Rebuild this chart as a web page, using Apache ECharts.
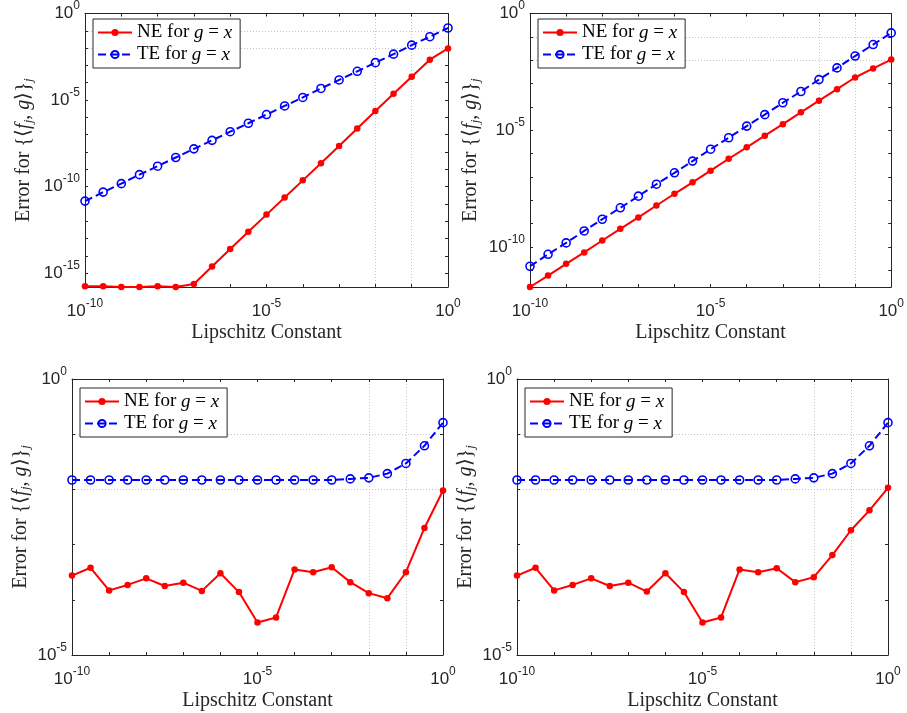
<!DOCTYPE html>
<html><head><meta charset="utf-8">
<script src="https://cdn.jsdelivr.net/npm/echarts@6/dist/echarts.min.js"></script>
<style>html,body{margin:0;padding:0;background:#fff}#c{width:907px;height:713px}</style>
</head><body><div id="c"></div>
<script>
// ---------------- data ----------------
const lipschitz = [1e-10, 3.1623e-10, 1e-9, 3.1623e-9, 1e-8, 3.1623e-8, 1e-7, 3.1623e-7, 1e-6, 3.1623e-6,
  1e-5, 3.1623e-5, 1e-4, 3.1623e-4, 1e-3, 3.1623e-3, 1e-2, 3.1623e-2, 1e-1, 3.1623e-1, 1];

const ne1 = [1.74e-16, 1.74e-16, 1.58e-16, 1.58e-16, 1.74e-16, 1.58e-16, 2.34e-16, 2.40e-15, 2.45e-14, 2.45e-13,
  2.40e-12, 2.34e-11, 2.29e-10, 2.24e-9, 2.24e-8, 2.29e-7, 2.34e-6, 2.29e-5, 2.19e-4, 2.14e-3, 9.55e-3];
const te1 = [1.45e-11, 4.79e-11, 1.48e-10, 4.90e-10, 1.51e-9, 4.79e-9, 1.51e-8, 4.68e-8, 1.48e-7, 4.57e-7,
  1.45e-6, 4.57e-6, 1.41e-5, 4.68e-5, 1.45e-4, 4.57e-4, 1.45e-3, 4.47e-3, 1.48e-2, 4.57e-2, 1.45e-1];

const ne2 = [1.95e-12, 6.03e-12, 1.91e-11, 5.89e-11, 1.91e-10, 6.03e-10, 1.86e-9, 6.03e-9, 1.91e-8, 5.89e-8,
  1.86e-7, 6.03e-7, 1.86e-6, 5.89e-6, 1.82e-5, 5.89e-5, 1.86e-4, 5.75e-4, 1.82e-3, 4.47e-3, 1.07e-2];
const te2 = [1.51e-11, 4.90e-11, 1.51e-10, 4.90e-10, 1.55e-9, 4.79e-9, 1.51e-8, 4.90e-8, 1.51e-7, 4.79e-7,
  1.55e-6, 4.79e-6, 1.51e-5, 4.68e-5, 1.51e-4, 4.57e-4, 1.48e-3, 4.68e-3, 1.51e-2, 4.68e-2, 1.48e-1];

const ne3 = [2.75e-4, 3.80e-4, 1.48e-4, 1.86e-4, 2.45e-4, 1.78e-4, 2.04e-4, 1.45e-4, 3.02e-4, 1.38e-4,
  3.89e-5, 4.79e-5, 3.55e-4, 3.16e-4, 3.89e-4, 2.09e-4, 1.32e-4, 1.07e-4, 3.16e-4, 2.00e-3, 9.55e-3];
const te3 = [1.48e-2, 1.48e-2, 1.48e-2, 1.48e-2, 1.48e-2, 1.48e-2, 1.48e-2, 1.48e-2, 1.48e-2, 1.48e-2,
  1.48e-2, 1.48e-2, 1.48e-2, 1.48e-2, 1.48e-2, 1.55e-2, 1.62e-2, 1.93e-2, 2.95e-2, 6.17e-2, 1.62e-1];

const ne4 = [2.75e-4, 3.80e-4, 1.48e-4, 1.86e-4, 2.45e-4, 1.78e-4, 2.04e-4, 1.41e-4, 3.02e-4, 1.38e-4,
  3.89e-5, 4.79e-5, 3.55e-4, 3.16e-4, 3.72e-4, 2.09e-4, 2.57e-4, 6.46e-4, 1.82e-3, 4.17e-3, 1.07e-2];
const te4 = [1.48e-2, 1.48e-2, 1.48e-2, 1.48e-2, 1.48e-2, 1.48e-2, 1.48e-2, 1.48e-2, 1.48e-2, 1.48e-2,
  1.48e-2, 1.48e-2, 1.48e-2, 1.48e-2, 1.48e-2, 1.55e-2, 1.62e-2, 1.93e-2, 2.95e-2, 6.17e-2, 1.62e-1];

const xLimits = [1e-10, 1];
const xTickLabels = [1e-10, 1e-5, 1];
const yLimits1 = [1.58e-16, 1];
const yLimits2 = [1.95e-12, 1];
const yLimits3 = [1e-5, 1];
const yTickLabels1 = [1e-15, 1e-10, 1e-5, 1];
const yTickLabels2 = [1e-10, 1e-5, 1];
const yTickLabels3 = [1e-5, 1];

const neName = 'NE for g = x';
const teName = 'TE for g = x';
const xName = 'Lipschitz Constant';
const yName = 'Error for {⟨{i|f}{sub|j}, {i|g}⟩}{sub|j}';

// ---------------- styling ----------------
const TXT = '#262626';
const SERIF = "'Liberation Serif', 'Times New Roman', serif";
const SANS = "'Liberation Sans', Arial, sans-serif";
const MAJOR = { color: '#dcdcdc', width: 1, type: 'solid' };
const MINOR = { color: '#c4c4c4', width: 1, type: [1, 2] };

const panels = [
  { rect: { left: 85, top: 11, width: 363, height: 276 }, ne: ne1, te: te1, ylim: yLimits1, yt: yTickLabels1, yGap: 50, legend: { left: 93, top: 19 } },
  { rect: { left: 530, top: 11, width: 363, height: 276 }, ne: ne2, te: te2, ylim: yLimits2, yt: yTickLabels2, yGap: 48, legend: { left: 538, top: 19 } },
  { rect: { left: 72, top: 379, width: 371, height: 276 }, ne: ne3, te: te3, ylim: yLimits3, yt: yTickLabels3, yGap: 40, legend: { left: 80, top: 388 } },
  { rect: { left: 517, top: 379, width: 371, height: 276 }, ne: ne4, te: te4, ylim: yLimits3, yt: yTickLabels3, yGap: 40, legend: { left: 525, top: 388 } }
];

function decades(lim) {
  const out = [];
  for (let e = Math.ceil(Math.log10(lim[0]) - 1e-9); e <= Math.floor(Math.log10(lim[1]) + 1e-9); e++) out.push(Math.pow(10, e));
  return out;
}
function isMajor(v, list) { return list.some(m => Math.abs(Math.log10(m) - Math.log10(v)) < 1e-6); }

const powRich = {
  b: { fontFamily: SANS, fontSize: 17, color: TXT },
  s: { fontFamily: SANS, fontSize: 12, color: TXT, padding: [0, 0, 15, 0] }
};
function powFmt(v) {
  const e = Math.round(Math.log10(v));
  return '{b|10}{s|' + e + '}';
}

const grids = [], xAxes = [], yAxes = [], series = [], legends = [];
panels.forEach((p, i) => {
  grids.push(Object.assign({}, p.rect));
  const xDec = decades(xLimits), yDec = decades(p.ylim);
  const baseX = {
    type: 'log', gridIndex: i, min: xLimits[0], max: xLimits[1], z: 1,
    axisLine: { show: true, lineStyle: { color: TXT, width: 1 } },
    axisTick: { show: true, inside: true, length: 3, customValues: xDec, lineStyle: { color: TXT } },
    splitLine: { show: false }, minorTick: { show: false }
  };
  xAxes.push(Object.assign({}, baseX, {
    position: 'bottom',
    axisLabel: { show: true, customValues: xTickLabels, formatter: powFmt, rich: powRich, margin: 11 },
    name: xName, nameLocation: 'middle', nameGap: 36,
    nameTextStyle: { fontFamily: SERIF, fontSize: 20, color: TXT, verticalAlign: 'top' }
  }));
  xAxes.push(Object.assign({}, baseX, { position: 'top', axisLabel: { show: false } }));
  const baseY = {
    type: 'log', gridIndex: i, min: p.ylim[0], max: p.ylim[1], z: 1,
    axisLine: { show: true, lineStyle: { color: TXT, width: 1 } },
    axisTick: { show: true, inside: true, length: 3, customValues: yDec, lineStyle: { color: TXT } },
    splitLine: { show: false }, minorTick: { show: false }
  };
  yAxes.push(Object.assign({}, baseY, {
    position: 'left',
    axisLabel: { show: true, customValues: p.yt, formatter: powFmt, rich: powRich, margin: 5 },
    name: yName, nameLocation: 'middle', nameGap: p.yGap, nameRotate: 90,
    nameTextStyle: {
      fontFamily: SERIF, fontSize: 20, color: TXT,
      rich: {
        i: { fontFamily: SERIF, fontSize: 20, fontStyle: 'italic', color: TXT },
        sub: { fontFamily: SERIF, fontSize: 13, fontStyle: 'italic', color: TXT, padding: [9, 0, 0, 0] }
      }
    }
  }));
  yAxes.push(Object.assign({}, baseY, { position: 'right', axisLabel: { show: false } }));

  const gridLines = [];
  xDec.forEach(v => {
    if (v <= xLimits[0] || v >= xLimits[1]) return;
    gridLines.push({ xAxis: v, lineStyle: isMajor(v, xTickLabels) ? MAJOR : MINOR });
  });
  yDec.forEach(v => {
    if (v <= p.ylim[0] || v >= p.ylim[1]) return;
    gridLines.push({ yAxis: v, lineStyle: isMajor(v, p.yt) ? MAJOR : MINOR });
  });

  series.push({
    name: teName, type: 'line', xAxisIndex: 2 * i, yAxisIndex: 2 * i, z: 2,
    data: lipschitz.map((x, k) => [x, p.te[k]]),
    symbol: 'circle', symbolSize: 8, showSymbol: true,
    lineStyle: { color: '#0000ff', width: 2, type: [8, 4] },
    itemStyle: { color: 'rgba(0,0,0,0)', borderColor: '#0000ff', borderWidth: 1.6 },
    markLine: {
      silent: true, z: 0, symbol: ['none', 'none'], label: { show: false },
      animation: false, data: gridLines
    }
  });
  series.push({
    name: neName, type: 'line', xAxisIndex: 2 * i, yAxisIndex: 2 * i, z: 3,
    data: lipschitz.map((x, k) => [x, p.ne[k]]),
    symbol: 'circle', symbolSize: 6.5, showSymbol: true,
    lineStyle: { color: '#ff0000', width: 2 },
    itemStyle: { color: '#ff0000' }
  });

  legends.push({
    left: p.legend.left, top: p.legend.top, orient: 'vertical',
    data: [neName, teName], z: 10,
    backgroundColor: '#ffffff', borderColor: TXT, borderWidth: 1,
    padding: [4, 8, 4, 4], itemGap: 3, itemWidth: 34, itemHeight: 9,
    selectedMode: false,
    formatter: n => n.replace('g = x', '{i|g} = {i|x}'),
    textStyle: {
      fontFamily: SERIF, fontSize: 19, color: '#000',
      rich: { i: { fontFamily: SERIF, fontSize: 19, fontStyle: 'italic', color: '#000' } }
    }
  });
});

const chart = echarts.init(document.getElementById('c'), null, { renderer: 'canvas' });
chart.setOption({
  animation: false,
  backgroundColor: '#ffffff',
  grid: grids, xAxis: xAxes, yAxis: yAxes, series: series, legend: legends
});
</script>
</body></html>
